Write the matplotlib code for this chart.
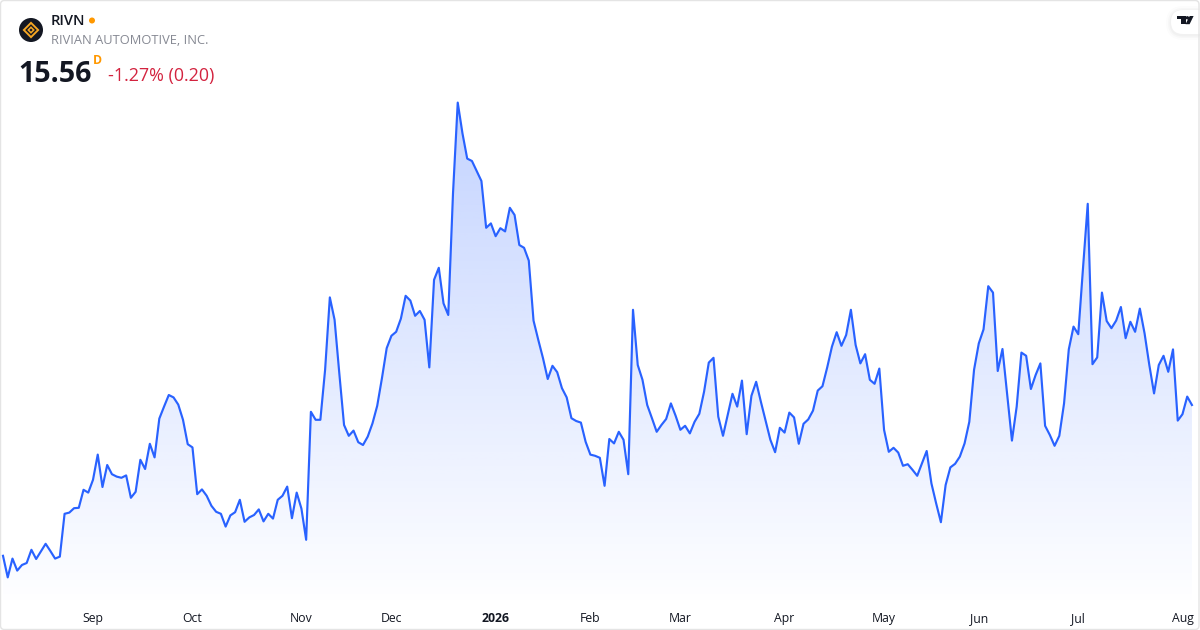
import numpy as np
import matplotlib
matplotlib.use("Agg")
import matplotlib.pyplot as plt
from matplotlib.patches import Circle, FancyBboxPatch, Polygon, Rectangle

plt.rcParams['font.family'] = ['Open Sans', 'DejaVu Sans']

# daily close, one value per trading day
closes = [
    11.79, 11.25, 11.72, 11.42, 11.56, 11.61, 11.94, 11.71, 11.90, 12.09,
    11.91, 11.72, 11.77, 12.84, 12.87, 12.98, 12.99, 13.44, 13.37, 13.69,
    14.32, 13.51, 14.06, 13.83, 13.77, 13.74, 13.80, 13.24, 13.39, 14.19,
    13.96, 14.59, 14.25, 15.22, 15.52, 15.81, 15.75, 15.57, 15.19, 14.58,
    14.50, 13.33, 13.45, 13.29, 13.04, 12.89, 12.84, 12.52, 12.80, 12.88,
    13.19, 12.64, 12.75, 12.81, 12.95, 12.65, 12.84, 12.72, 13.19, 13.29,
    13.52, 12.73, 13.37, 12.97, 12.19, 15.39, 15.19, 15.19, 16.44, 18.25,
    17.69, 16.35, 15.06, 14.79, 14.92, 14.63, 14.56, 14.77, 15.10, 15.54,
    16.23, 16.98, 17.29, 17.39, 17.72, 18.29, 18.17, 17.79, 17.91, 17.69,
    16.50, 18.69, 18.99, 18.10, 17.81, 20.85, 23.12, 22.35, 21.72, 21.66,
    21.41, 21.16, 19.99, 20.10, 19.78, 19.98, 19.90, 20.49, 20.31, 19.56,
    19.49, 19.17, 17.67, 17.19, 16.73, 16.21, 16.54, 16.38, 15.98, 15.75,
    15.23, 15.16, 15.12, 14.64, 14.32, 14.29, 14.24, 13.54, 14.71, 14.60,
    14.89, 14.69, 13.83, 17.94, 16.56, 16.19, 15.56, 15.23, 14.89, 15.06,
    15.21, 15.60, 15.29, 14.94, 15.04, 14.85, 15.14, 15.34, 15.89, 16.62,
    16.74, 15.27, 14.79, 15.31, 15.84, 15.52, 16.17, 14.83, 15.79, 16.14,
    15.64, 15.17, 14.69, 14.38, 14.99, 14.87, 15.37, 15.25, 14.59, 15.09,
    15.20, 15.42, 15.92, 16.03, 16.50, 17.02, 17.38, 17.04, 17.31, 17.94,
    17.06, 16.60, 16.83, 16.19, 16.09, 16.47, 14.94, 14.39, 14.49, 14.37,
    14.04, 14.08, 13.94, 13.79, 14.10, 14.41, 13.60, 13.10, 12.63, 13.56,
    14.00, 14.09, 14.27, 14.60, 15.14, 16.44, 17.10, 17.45, 18.53, 18.37,
    16.41, 16.96, 15.81, 14.67, 15.52, 16.87, 16.79, 15.96, 16.31, 16.60,
    15.04, 14.81, 14.54, 14.79, 15.60, 16.95, 17.52, 17.33, 18.98, 20.59,
    16.58, 16.75, 18.37, 17.66, 17.48, 17.67, 18.01, 17.23, 17.64, 17.39,
    17.97, 17.35, 16.56, 15.85, 16.56, 16.79, 16.39, 16.95, 15.17, 15.33,
    15.77, 15.56,
]
month_labels = ["Sep", "Oct", "Nov", "Dec", "2026", "Feb", "Mar", "Apr", "May", "Jun", "Jul", "Aug"]
month_starts = [19, 40, 63, 82, 104, 124, 143, 165, 186, 206, 227, 249]

ticker = "RIVN"
company = "RIVIAN AUTOMOTIVE, INC."
last_price = "15.56"
change = "-1.27% (0.20)"

BLUE = "#2962FF"
ORANGE = "#FF9800"
DARK = "#131722"
W, H = 1200, 630
XMIN, XMAX = -0.633, 252.7

fig = plt.figure(figsize=(12, 6.3), dpi=100, facecolor="white")

# price pane, leaves the bottom strip for the month labels
bottom_px = 600
y_low = 25.685 - bottom_px / 40
ax = fig.add_axes([0, 1 - bottom_px / H, 1, bottom_px / H])
x = np.arange(len(closes))
for s in ax.spines.values():
    s.set_visible(False)
ax.set_yticks([])
ax.set_xticks(month_starts)
ax.set_xticklabels(month_labels, fontsize=8.8, color=DARK)
ax.tick_params(axis='x', length=0, pad=8.5)
ax.get_xticklabels()[month_labels.index("2026")].set_fontweight("bold")

# gradient under the line
area = ax.fill_between(x, closes, y_low, facecolor="none", edgecolor="none")
grad = np.zeros((256, 2, 4))
grad[..., :3] = matplotlib.colors.to_rgb(BLUE)
grad[..., 3] = np.linspace(0.28, 0.005, 256)[:, None]
im = ax.imshow(grad, extent=[XMIN, XMAX, y_low, max(closes)], origin="upper", aspect="auto", zorder=1)
im.set_clip_path(area.get_paths()[0], transform=ax.transData)
ax.plot(x, closes, color=BLUE, lw=1.55, zorder=2, solid_joinstyle="round")
ax.set_xlim(XMIN, XMAX)
ax.set_ylim(y_low, 25.685)

# header and frame, in pixels
top = fig.add_axes([0, 0, 1, 1], facecolor="none")
top.set_xlim(0, W)
top.set_ylim(H, 0)
top.axis("off")

top.text(51, 21, ticker, fontsize=10.6, fontweight=600, color=DARK, va="center", ha="left")
top.add_patch(Circle((92, 20.5), 3, fc=ORANGE, ec="none"))
top.text(51, 41, company, fontsize=9.3, color="#868993", va="center", ha="left")
top.text(18.5, 74, last_price, fontsize=20.6, fontweight="bold", color=DARK, va="center", ha="left")
top.text(93, 61, "D", fontsize=8.8, fontweight="bold", color=ORANGE, va="center", ha="left")
top.text(108, 76, change, fontsize=12.9, color="#D3233F", va="center", ha="left")

# round logo
top.add_patch(Circle((31, 30), 12, fc=DARK, ec="none"))
for half, colour in [(8.5, "#F5A623"), (5.8, DARK), (3.8, "#F5A623"), (1.6, DARK)]:
    top.add_patch(Polygon([(31, 30 - half), (31 + half, 30), (31, 30 + half), (31 - half, 30)],
                          closed=True, fc=colour, ec="none"))

# TradingView badge
for spread, alpha in [(5, 0.012), (3, 0.018), (1.5, 0.025)]:
    top.add_patch(FancyBboxPatch((1171 - spread, 10 - spread + 1), 40 + spread, 24 + 2 * spread,
                                 boxstyle="round,pad=0,rounding_size=%g" % (12 + spread),
                                 fc="black", ec="none", alpha=alpha))
top.add_patch(FancyBboxPatch((1171, 10), 40, 24, boxstyle="round,pad=0,rounding_size=12", fc="white", ec="none"))
top.add_patch(Rectangle((1177, 16), 8.5, 3.2, fc=DARK, ec="none"))
top.add_patch(Rectangle((1181, 16), 4.5, 8.2, fc=DARK, ec="none"))
top.add_patch(Circle((1187.4, 17.8), 1.7, fc=DARK, ec="none"))
top.add_patch(Polygon([(1185.5, 24.2), (1189.7, 16), (1193.6, 16), (1189.6, 24.2)], closed=True, fc=DARK, ec="none"))

# card outline goes on last so the badge does not cover it
top.add_patch(FancyBboxPatch((0.5, 0.5), W - 1.5, H - 1, boxstyle="round,pad=0,rounding_size=4",
                             fc="none", ec="#E4E4E4", lw=1))

fig.savefig("out.png", dpi=100)
